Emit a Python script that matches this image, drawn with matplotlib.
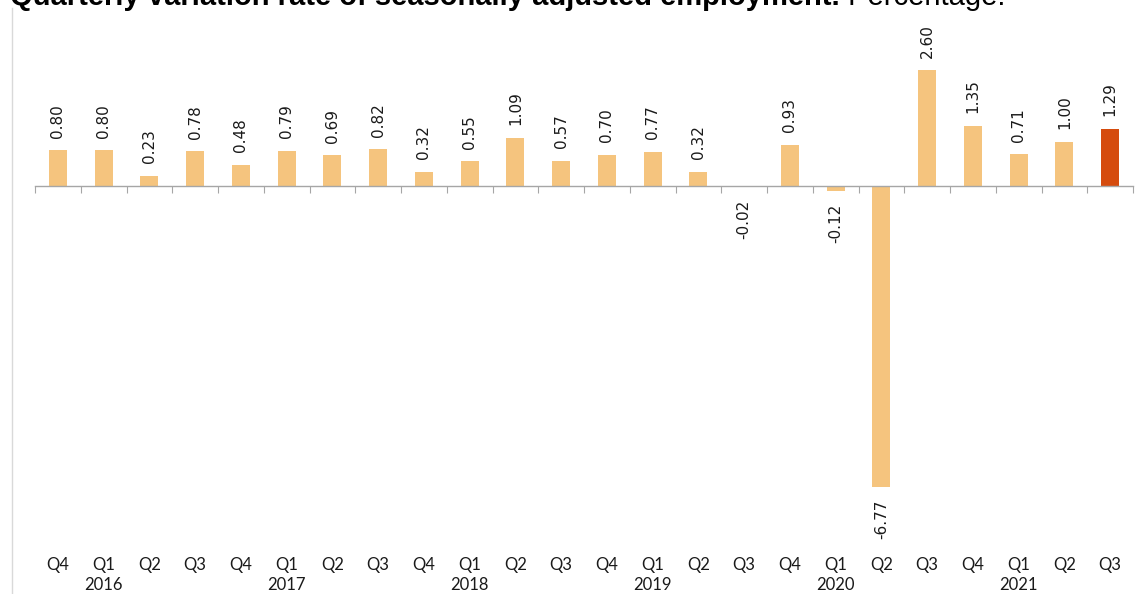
import matplotlib
matplotlib.use('Agg')
import matplotlib.pyplot as plt
from matplotlib.lines import Line2D
import numpy as np

# quarterly variation rate of seasonally adjusted employment (%)
quarters = ['Q4', 'Q1', 'Q2', 'Q3', 'Q4', 'Q1', 'Q2', 'Q3', 'Q4', 'Q1', 'Q2', 'Q3',
            'Q4', 'Q1', 'Q2', 'Q3', 'Q4', 'Q1', 'Q2', 'Q3', 'Q4', 'Q1', 'Q2', 'Q3']
rates = [0.80, 0.80, 0.23, 0.78, 0.48, 0.79, 0.69, 0.82, 0.32, 0.55, 1.09, 0.57,
         0.70, 0.77, 0.32, -0.02, 0.93, -0.12, -6.77, 2.60, 1.35, 0.71, 1.00, 1.29]
years = ['2016', '2017', '2018', '2019', '2020', '2021']
year_pos = [1, 5, 9, 13, 17, 21]

W, H = 1142, 594
fig = plt.figure(figsize=(W / 100, H / 100), dpi=100)
fig.patch.set_facecolor('white')

ax = fig.add_axes([35 / W, 54 / H, 1098 / W, 530 / H])
x = np.arange(len(rates))
colors = ['#F5C47E'] * (len(rates) - 1) + ['#D54B0E']
ax.bar(x, rates, width=0.39, color=colors, edgecolor='none', zorder=2)

ax.set_xlim(-0.5, len(rates) - 0.5)
ax.set_ylim(-7.97, 3.96)

for s in ['top', 'right', 'left']:
    ax.spines[s].set_visible(False)
ax.spines['bottom'].set_position(('data', 0))
ax.spines['bottom'].set_color('#A6A6A6')
ax.spines['bottom'].set_linewidth(1.0)
ax.set_yticks([])
ax.set_xticks(np.arange(len(rates) + 1) - 0.5)
ax.tick_params(axis='x', direction='out', length=5, color='#A6A6A6',
               labelbottom=False)

# value labels, rotated
for xi, v in zip(x, rates):
    if v >= 0:
        ax.annotate(f'{v:.2f}', (xi, v), xytext=(0, 9), textcoords='offset points',
                    rotation=90, ha='center', va='bottom', fontsize=11,
                    color='#1a1a1a')
    else:
        ax.annotate(f'{v:.2f}', (xi, v), xytext=(0, -9), textcoords='offset points',
                    rotation=90, ha='center', va='top', fontsize=11,
                    color='#1a1a1a')

# category labels below the plot area
trans = ax.get_xaxis_transform()
for xi, q in zip(x, quarters):
    ax.text(xi, -25 / 530, q, transform=trans, ha='center', va='center',
            fontsize=12, family='Lato', color='#1a1a1a')
for p, y in zip(year_pos, years):
    ax.text(p, -45 / 530, y, transform=trans, ha='center', va='center',
            fontsize=12, family='Lato', color='#1a1a1a')

# chart area border on the left
fig.add_artist(Line2D([12 / W, 12 / W], [0, 1 - 8 / H], transform=fig.transFigure,
                      color='#D9D9D9', linewidth=1))

t1 = fig.text(10 / W, 1 - 5 / H,
              'Quarterly variation rate of seasonally adjusted employment.',
              fontsize=21, fontweight='bold', family='Liberation Sans',
              ha='left', va='baseline')
ax.annotate(' Percentage.', xy=(1, 0), xycoords=t1, ha='left', va='bottom',
            fontsize=21, family='Liberation Sans', annotation_clip=False)

fig.savefig('out.png', dpi=100)
